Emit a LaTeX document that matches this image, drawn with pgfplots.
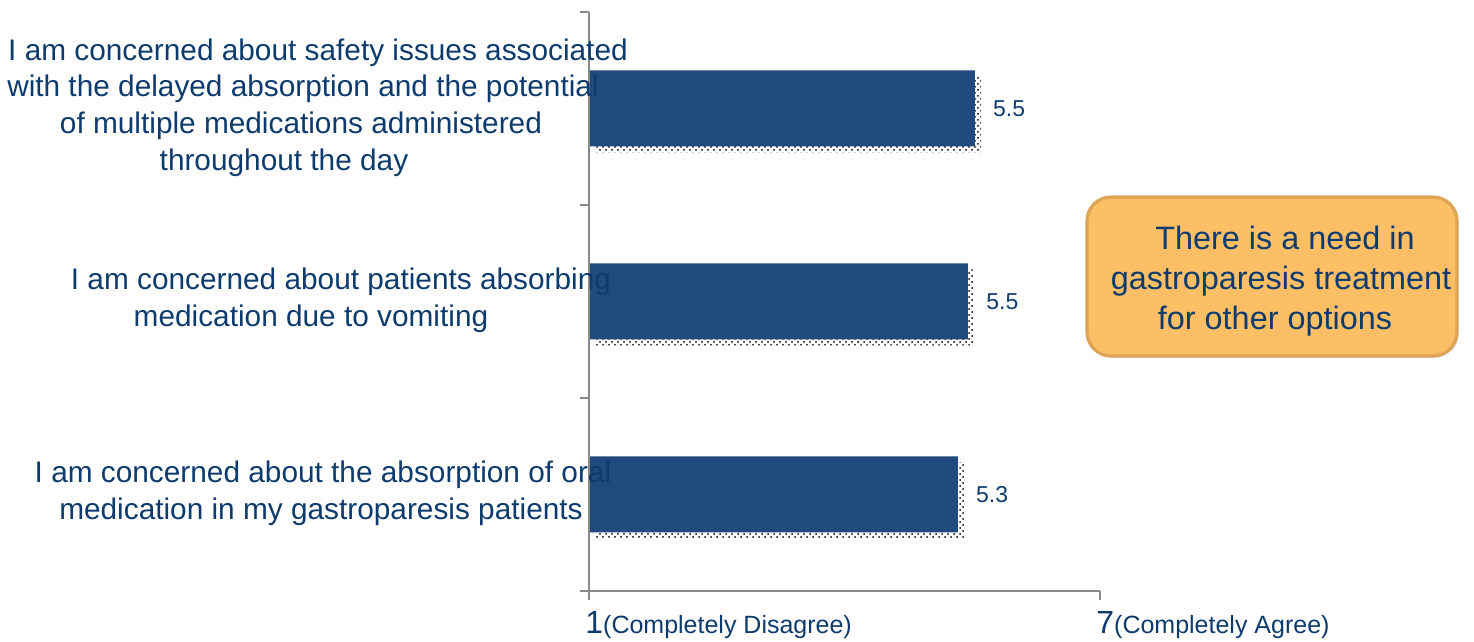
\documentclass[border=0pt]{standalone}
\usepackage{fontspec}
\setmainfont{Liberation Sans}
\usepackage{pgfplots}
\pgfplotsset{compat=1.18}
\usepackage{pgfplotstable}
\usetikzlibrary{patterns,shadows}
\definecolor{txtblue}{HTML}{0E3B6E}
\definecolor{barblue}{HTML}{214A7C}
\definecolor{axgray}{HTML}{8A8A8A}
\definecolor{boxfill}{HTML}{FDBF66}
\definecolor{boxedge}{HTML}{DDA455}

\pgfplotstableread{
y val lab
0 5.33 5.3
1 5.45 5.5
2 5.53 5.5
}\bars

\begin{document}
\begin{tikzpicture}
\useasboundingbox (-294.5pt,-25.5pt) rectangle (442.5pt,295.5pt);
\begin{axis}[
  at={(0pt,0pt)}, anchor=south west,
  scale only axis, width=255.5pt, height=289.5pt,
  xmin=1, xmax=7, ymin=-0.5, ymax=2.5,
  axis on top,
  axis x line=bottom, axis y line=left,
  axis line style={-, axgray, line width=1.2pt},
  every tick/.style={axgray, line width=1.2pt},
  tick align=outside, major tick length=4.5pt,
  xtick={1,7},
  xticklabels={{\fontsize{16pt}{20pt}\selectfont 1}{\fontsize{12.5pt}{15pt}\selectfont(Completely Disagree)},
               {\fontsize{16pt}{20pt}\selectfont 7}{\fontsize{12.5pt}{15pt}\selectfont(Completely Agree)}},
  xticklabel style={anchor=north west, xshift=-2pt, text=txtblue, inner sep=0pt, yshift=-5.5pt},
  ytick={-0.5,0.5,1.5,2.5},
  yticklabels={,,,},
  extra y ticks={0,1,2},
  extra y tick labels={
    {\hspace*{23pt}I am concerned about the absorption of oral\\ \hspace*{21pt}medication in my gastroparesis patients},
    {\hspace*{41pt}I am concerned about patients absorbing\\ \hspace*{11pt}medication due to vomiting},
    {\hspace*{18pt}I am concerned about safety issues associated\\ \hspace*{3pt}with the delayed absorption and the potential\\ \hspace*{1pt}of multiple medications administered\\ throughout the day\hspace*{16pt}}},
  extra y tick style={major tick length=0pt,
    yticklabel style={anchor=center, align=center, xshift=-144.5pt, yshift=0.5pt,
      text=txtblue, font=\fontsize{14.9pt}{18.3pt}\selectfont}},
  xbar, bar width=38pt,
  nodes near coords, point meta=explicit symbolic,
  nodes near coords style={anchor=west, inner sep=0pt, xshift=9pt, text=txtblue,
    font=\fontsize{11.5pt}{14pt}\selectfont},
]
\addplot[fill=barblue, draw=none,
  preaction={pattern=crosshatch dots, pattern color=black,
    transform canvas={xshift=3pt, yshift=-3pt}}]
  table[x=val, y=y, meta=lab] {\bars};
\end{axis}
\node[rounded corners=12pt, fill=boxfill, draw=boxedge, line width=1.6pt,
  minimum width=185pt, minimum height=79.5pt,
  drop shadow={shadow xshift=1pt, shadow yshift=-1pt, opacity=0.2}]
  at (341.5pt,157.25pt) {};
\node[align=center, text=txtblue, font=\fontsize{16.2pt}{20pt}\selectfont]
  at (341.5pt,155pt) {\hspace*{13pt}There is a need in\\ \hspace*{9pt}gastroparesis treatment\\ \hspace*{3pt}for other options};
\end{tikzpicture}
\end{document}
